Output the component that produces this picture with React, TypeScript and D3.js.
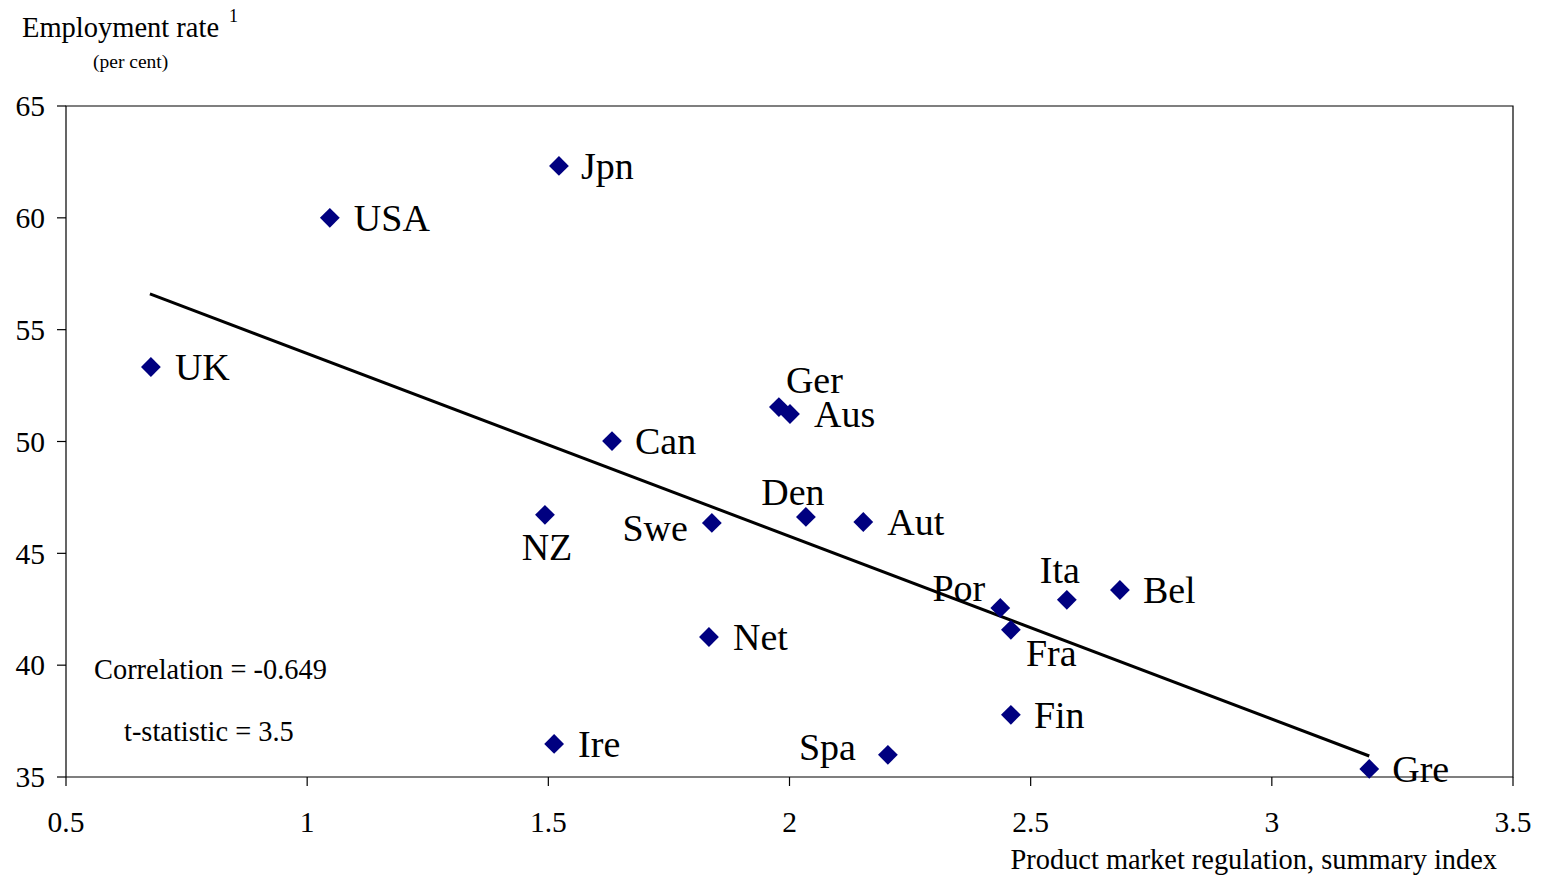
import React from "react";
import * as d3 from "d3";

const WIDTH = 1550;
const HEIGHT = 879;
const M = { left: 66, right: 37, top: 106, bottom: 102 };

// OECD countries: product market regulation index vs employment rate
const countries = ["Jpn", "USA", "UK", "Ger", "Aus", "Can", "NZ", "Swe", "Den", "Aut", "Por", "Ita", "Bel", "Fra", "Net", "Fin", "Ire", "Spa", "Gre"];
const pmr = [1.522, 1.047, 0.676, 1.978, 2.001, 1.632, 1.493, 1.839, 2.034, 2.153, 2.437, 2.575, 2.685, 2.459, 1.833, 2.459, 1.512, 2.204, 3.202];
const employment = [62.32, 60.0, 53.33, 51.54, 51.23, 50.02, 46.72, 46.36, 46.63, 46.4, 42.56, 42.92, 43.36, 41.58, 41.26, 37.78, 36.48, 35.99, 35.36];

// fitted regression line end points
const trendX = [0.674, 3.202];
const trendY = [56.6, 35.94];

const xTicks = [0.5, 1, 1.5, 2, 2.5, 3, 3.5];
const yTicks = [35, 40, 45, 50, 55, 60, 65];

// label placement relative to the marker: [dx, dy, anchor]
const labelPos: Record<string, [number, number, string]> = {
  Jpn: [22, 13, "start"],
  USA: [24, 13, "start"],
  UK: [24, 13, "start"],
  Ger: [7, -14, "start"],
  Aus: [24, 13, "start"],
  Can: [23, 13, "start"],
  NZ: [2, 45, "middle"],
  Swe: [-24, 18, "end"],
  Den: [-13, -12, "middle"],
  Aut: [24, 13, "start"],
  Por: [-15, -7, "end"],
  Ita: [-27, -17, "start"],
  Bel: [23, 13, "start"],
  Fra: [15, 36, "start"],
  Net: [24, 13, "start"],
  Fin: [23, 13, "start"],
  Ire: [24, 13, "start"],
  Spa: [-32, 5, "end"],
  Gre: [23, 13, "start"],
};

const FONT = "'Liberation Serif', 'Times New Roman', serif";

export default function App() {
  const x = d3.scaleLinear().domain([0.5, 3.5]).range([M.left, WIDTH - M.right]);
  const y = d3.scaleLinear().domain([35, 65]).range([HEIGHT - M.bottom, M.top]);
  const diamond = d3.symbol().type(d3.symbolDiamond2).size(250)();
  const line = d3.line<number>().x((_, i) => x(trendX[i])).y((d) => y(d));

  const x0 = x(0.5), x1 = x(3.5), y0 = y(35), y1 = y(65);

  return (
    <svg width={WIDTH} height={HEIGHT} style={{ position: "absolute", left: 0, top: 0, fontFamily: FONT }}>
      <rect width={WIDTH} height={HEIGHT} fill="#fff" />
      {/* frame */}
      <path d={`M${x0},${y0}V${y1}H${x1}V${y0}H${x0}`} fill="none" stroke="#000" strokeWidth={1.2} />
      {yTicks.map((t) => (
        <g key={"y" + t}>
          <line x1={x0 - 9} x2={x0} y1={y(t)} y2={y(t)} stroke="#000" strokeWidth={1.2} />
          <text x={45} y={y(t)} dy="0.35em" textAnchor="end" fontSize={29.5}>{t}</text>
        </g>
      ))}
      {xTicks.map((t) => (
        <g key={"x" + t}>
          <line x1={x(t)} x2={x(t)} y1={y0} y2={y0 + 9} stroke="#000" strokeWidth={1.2} />
          <text x={x(t)} y={832} textAnchor="middle" fontSize={29.5}>{t}</text>
        </g>
      ))}
      <text x={22} y={37} fontSize={28.5}>Employment rate</text>
      <text x={229} y={22} fontSize={18}>1</text>
      <text x={93} y={68} fontSize={19.5}>(per cent)</text>
      <text x={1497} y={869} textAnchor="end" fontSize={28.4}>Product market regulation, summary index</text>

      <path d={line(trendY) || ""} fill="none" stroke="#000" strokeWidth={3} />

      {countries.map((c, i) => {
        const px = x(pmr[i]);
        const py = y(employment[i]);
        const [dx, dy, anchor] = labelPos[c];
        return (
          <g key={c}>
            <path d={diamond || ""} transform={`translate(${px},${py})`} fill="#000080" />
            <text x={px + dx} y={py + dy} textAnchor={anchor as any} fontSize={38}>{c}</text>
          </g>
        );
      })}

      <text x={94} y={679} fontSize={28.4}>Correlation = -0.649</text>
      <text x={124} y={741} fontSize={28.4}>t-statistic = 3.5</text>
    </svg>
  );
}
